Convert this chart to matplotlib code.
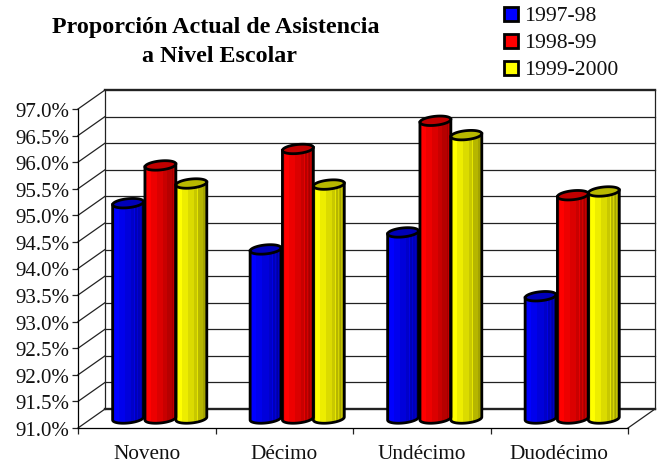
import matplotlib.pyplot as plt
import numpy as np
from matplotlib.patches import Rectangle

plt.rcParams["font.family"] = ["Liberation Serif", "DejaVu Serif"]

categories = ["Noveno", "Décimo", "Undécimo", "Duodécimo"]
years = ["1997-98", "1998-99", "1999-2000"]
values_9798 = [95.05, 94.18, 94.5, 93.3]
values_9899 = [95.76, 96.07, 96.6, 95.2]
values_9900 = [95.42, 95.4, 96.33, 95.27]
y_ticks = [91 + 0.5 * i for i in range(13)]

FIG_W, FIG_H = 657, 464
DEPTH_X = 27 / 137.5   # wall depth, in category units
DEPTH_Y = 19 / 53.2    # wall depth, in percent units


def shade_curve(t, color):
    # t runs 0..1 across the cylinder, returns rgb strips
    base = np.array(color, dtype=float)
    light = np.interp(t, [0, 0.12, 0.3, 0.6, 0.75, 1], [0.88, 1.0, 0.93, 0.82, 0.74, 0.62])
    # banding like the old office renderer
    light = np.round(light * 14) / 14
    # pale stripes towards the right side
    light = np.where((t > 0.66) & (np.arange(len(t)) % 4 == 0), light + 0.12, light)
    return np.outer(np.clip(light, 0, 1), base)


def draw_cylinder(ax, center, value, width, color, top_color):
    a = width / 2
    b = 4.5 / 53.2
    skew = 1.5 / 53.2
    mid_x = center + DEPTH_X * 0.48
    y0 = 91 + DEPTH_Y * 0.5
    top = value + DEPTH_Y * 0.5

    strips = 40
    edges = np.linspace(-1, 1, strips + 1)
    mids = (edges[:-1] + edges[1:]) / 2
    lower = y0 - b * np.sqrt(1 - mids**2) + skew * mids
    upper = top + skew * mids
    ax.bar(mid_x + a * mids, upper - lower, width=2 * a / strips * 1.1, bottom=lower,
           color=shade_curve((mids + 1) / 2, color), linewidth=0, zorder=3)

    t = np.linspace(0, 2 * np.pi, 80)
    ax.fill(mid_x + a * np.cos(t), top + b * np.sin(t) + skew * np.cos(t),
            facecolor=top_color, edgecolor="black", linewidth=2, zorder=4)
    # outline of sides and bottom
    t2 = np.linspace(np.pi, 2 * np.pi, 40)
    out_x = np.r_[mid_x - a, mid_x + a * np.cos(t2), mid_x + a]
    out_y = np.r_[top - skew, y0 + b * np.sin(t2) + skew * np.cos(t2), top + skew]
    ax.plot(out_x, out_y, color="black", linewidth=2, zorder=4, solid_joinstyle="round")


def main():
    fig = plt.figure(figsize=(FIG_W / 100, FIG_H / 100), dpi=100)
    ax = fig.add_axes([78 / FIG_W, 1 - 429 / FIG_H, 550 / FIG_W, 319 / FIG_H])
    ax.set_xlim(0, 4)
    ax.set_ylim(91, 97)
    ax.patch.set_visible(False)
    for spine in ["top", "right"]:
        ax.spines[spine].set_visible(False)
    for spine in ["left", "bottom"]:
        ax.spines[spine].set_linewidth(0.9)

    # back wall and side wall grid
    grid = "#222222"
    for i, tick in enumerate(y_ticks):
        ax.plot([DEPTH_X, 4 + DEPTH_X], [tick + DEPTH_Y] * 2, color=grid,
                linewidth=1.7 if i in (0, 12) else 0.9, clip_on=False, zorder=1)
        ax.plot([0, DEPTH_X], [tick, tick + DEPTH_Y], color=grid, linewidth=0.9,
                clip_on=False, zorder=1)
    ax.plot([DEPTH_X, DEPTH_X], [91 + DEPTH_Y, 97 + DEPTH_Y], color=grid, linewidth=0.9,
            clip_on=False, zorder=1)
    ax.plot([4 + DEPTH_X, 4 + DEPTH_X], [91 + DEPTH_Y, 97 + DEPTH_Y], color=grid, linewidth=0.9,
            clip_on=False, zorder=1)
    ax.plot([4, 4 + DEPTH_X], [91, 91 + DEPTH_Y], color=grid, linewidth=0.9, clip_on=False, zorder=1)

    series = [
        (values_9798, (0, 0, 1), "#0000b8", 0.27),
        (values_9899, (1, 0, 0), "#c00000", 0.505),
        (values_9900, (1, 1, 0), "#b8b800", 0.73),
    ]
    for values, color, top_color, offset in series:
        for i, value in enumerate(values):
            draw_cylinder(ax, i + offset, value, 0.225, color, top_color)

    ax.set_yticks(y_ticks)
    ax.set_yticklabels([f"{tick:.1f}%" for tick in y_ticks], fontsize=15)
    ax.set_xticks(range(5))
    ax.set_xticklabels([])
    ax.tick_params(axis="both", width=0.9, length=4, color=grid, pad=2, labelcolor="#111111")
    for i, name in enumerate(categories):
        ax.annotate(name, (i + 0.5, 91), xytext=(0, -26), textcoords="offset pixels",
                    ha="center", va="center", fontsize=15.3, color="#111111")

    fig.text(216 / FIG_W, 1 - 28 / FIG_H, "Proporción Actual de Asistencia", ha="center", va="center",
             fontsize=17.3, fontweight="bold")
    fig.text(219 / FIG_W, 1 - 56 / FIG_H, "a Nivel Escolar", ha="center", va="center",
             fontsize=17.3, fontweight="bold")

    # legend
    colors = ["#0000ff", "#ff0000", "#ffff00"]
    for k, (name, color) in enumerate(zip(years, colors)):
        y = 15 + 27 * k
        fig.add_artist(Rectangle((504 / FIG_W, 1 - (y + 7) / FIG_H), 14 / FIG_W, 14 / FIG_H,
                                 transform=fig.transFigure, facecolor=color, edgecolor="black", linewidth=2))
        fig.text(524 / FIG_W, 1 - (y + 1.5) / FIG_H, name, ha="left", va="center", fontsize=15.6, color="#111111")

    fig.savefig("out.png", dpi=100)


if __name__ == "__main__":
    main()
